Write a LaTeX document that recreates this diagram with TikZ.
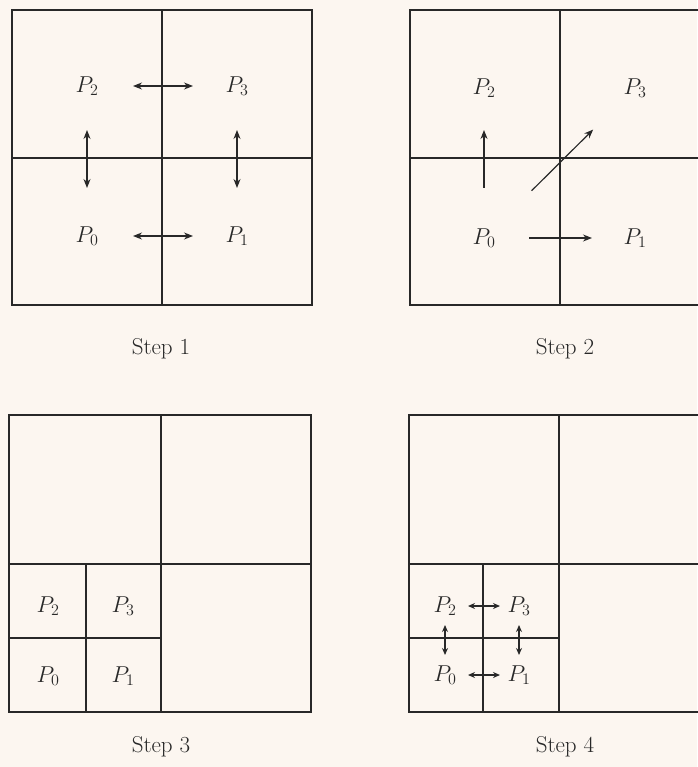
\RequirePackage{fix-cm}
\documentclass[tikz,border=0pt]{standalone}
\usepackage{tikz}
\usetikzlibrary{arrows.meta}
\definecolor{paper}{RGB}{252,246,240}
\definecolor{ink}{RGB}{40,40,40}

\begin{document}
\begin{tikzpicture}[x=1pt,y=-1pt,>={Stealth[length=9pt,width=7pt]},font=\fontsize{23}{27}\selectfont,color=ink]
\tikzstyle{grid}=[line width=1.6pt]
\tikzstyle{msg}=[line width=1.2pt]
\tikzstyle{small}=[>={Stealth[length=7pt,width=6pt]}]
\fill[paper] (0,0) rectangle (697,767);
\useasboundingbox (0,0) rectangle (697,767);
% step 1
\draw[grid] (12,10) rectangle (312,305) (162,10) -- (162,305) (12,158) -- (312,158);
\node (a2) at (87,86) {$P_2$};
\node (a3) at (237,86) {$P_3$};
\node (a0) at (87,236) {$P_0$};
\node (a1) at (237,236) {$P_1$};
\draw[msg,<->,shorten <=46pt,shorten >=44pt] (a2.center) -- (a3.center);
\draw[msg,<->,shorten <=46pt,shorten >=44pt] (a0.center) -- (a1.center);
\draw[msg,<->,shorten <=44pt,shorten >=48pt] (a2.center) -- (a0.center);
\draw[msg,<->,shorten <=44pt,shorten >=48pt] (a3.center) -- (a1.center);
\node[anchor=base] (cap1) at (161,354) {Step 1};
% step 2
\draw[grid] (410,10) rectangle (710,305) (560,10) -- (560,305) (410,158) -- (710,158);
\node (b2) at (484,88) {$P_2$};
\node (b3) at (635,88) {$P_3$};
\node (b0) at (484,238) {$P_0$};
\node (b1) at (635,238) {$P_1$};
\draw[msg,->,shorten <=50pt,shorten >=42pt] (b0.center) -- (b2.center);
\draw[msg,->,shorten <=67pt,shorten >=59pt] (b0.center) -- (b3.center);
\draw[msg,->,shorten <=45pt,shorten >=43pt] (b0.center) -- (b1.center);
\node[anchor=base] (cap2) at (565,354) {Step 2};
% step 3
\draw[grid] (9,415) rectangle (311,712) (161,415) -- (161,712) (9,564) -- (311,564);
\draw[grid] (86,564) -- (86,712) (9,638) -- (161,638);
\node (c2) at (48,606) {$P_2$};
\node (c3) at (123,606) {$P_3$};
\node (c0) at (48,676) {$P_0$};
\node (c1) at (123,676) {$P_1$};
\node[anchor=base] (cap3) at (161,752) {Step 3};
% step 4
\draw[grid] (409,415) rectangle (709,712) (559,415) -- (559,712) (409,564) -- (709,564);
\draw[grid] (483,564) -- (483,712) (409,638) -- (559,638);
\node (d2) at (445,606) {$P_2$};
\node (d3) at (519,606) {$P_3$};
\node (d0) at (445,675) {$P_0$};
\node (d1) at (519,675) {$P_1$};
\draw[msg,small,<->,shorten <=23pt,shorten >=19pt] (d2.center) -- (d3.center);
\draw[msg,small,<->,shorten <=23pt,shorten >=19pt] (d0.center) -- (d1.center);
\draw[msg,small,<->,shorten <=19pt,shorten >=20pt] (d2.center) -- (d0.center);
\draw[msg,small,<->,shorten <=19pt,shorten >=20pt] (d3.center) -- (d1.center);
\node[anchor=base] (cap4) at (565,752) {Step 4};
\end{tikzpicture}
\end{document}
